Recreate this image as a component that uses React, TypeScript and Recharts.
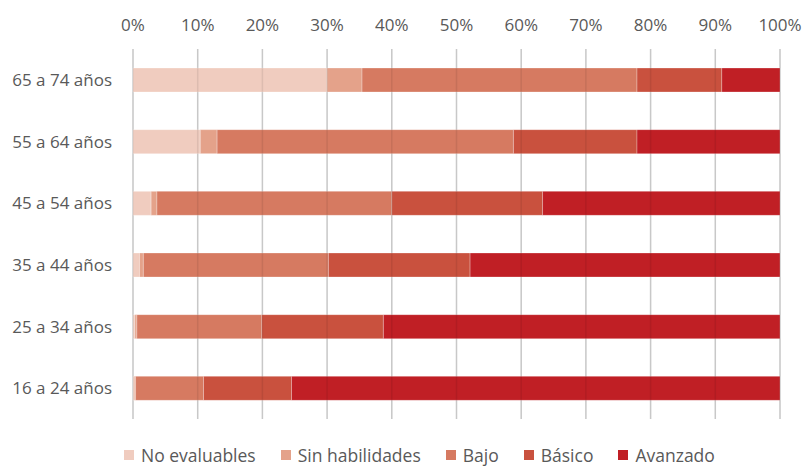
import {
  BarChart,
  Bar,
  XAxis,
  YAxis,
  CartesianGrid,
  Legend,
  ReferenceLine,
} from "recharts";

const categories = [
  "65 a 74 años",
  "55 a 64 años",
  "45 a 54 años",
  "35 a 44 años",
  "25 a 34 años",
  "16 a 24 años",
];
const noEvaluables = [30.0, 10.4, 2.8, 1.0, 0.3, 0.2];
const sinHabilidades = [5.4, 2.6, 0.9, 0.6, 0.3, 0.2];
const bajo = [42.5, 45.8, 36.3, 28.6, 19.3, 10.5];
const basico = [13.1, 19.1, 23.3, 21.9, 18.8, 13.6];
const avanzado = [9.0, 22.1, 36.7, 47.9, 61.3, 75.5];
const xTicks = [0, 10, 20, 30, 40, 50, 60, 70, 80, 90, 100];

const series = [
  { key: "ne", name: "No evaluables", color: "#F0CCBF" },
  { key: "sh", name: "Sin habilidades", color: "#E4A28A" },
  { key: "bajo", name: "Bajo", color: "#D67A61" },
  { key: "basico", name: "Básico", color: "#C9513E" },
  { key: "av", name: "Avanzado", color: "#C01F25" },
];

const data = categories.map((name, i) => ({
  name,
  ne: noEvaluables[i],
  sh: sinHabilidades[i],
  bajo: bajo[i],
  basico: basico[i],
  av: avanzado[i],
}));

const FONT = "'Open Sans', sans-serif";
const TEXT = "#595959";

function LegendRow() {
  return (
    <div
      style={{
        display: "flex",
        justifyContent: "flex-start",
        gap: 25,
        fontFamily: FONT,
        fontSize: 17.5,
        lineHeight: "24px",
        color: TEXT,
        paddingLeft: 124,
      }}
    >
      {series.map((s) => (
        <div key={s.key} style={{ display: "flex", alignItems: "center" }}>
          <span
            style={{
              width: 10,
              height: 10,
              background: s.color,
              display: "inline-block",
              marginRight: 7,
            }}
          />
          {s.name}
        </div>
      ))}
    </div>
  );
}

export default function App() {
  return (
    <div style={{ width: 805, height: 470, background: "#fff" }}>
      <style>{"body{margin:0}"}</style>
      <BarChart
        width={805}
        height={470}
        data={data}
        layout="vertical"
        margin={{ top: 19, right: 25, bottom: 27, left: 0 }}
        barSize={24}
      >
        <CartesianGrid horizontal={false} stroke="#d9d9d9" strokeWidth={1.5} />
        <XAxis
          type="number"
          orientation="top"
          domain={[0, 100]}
          ticks={xTicks}
          tickFormatter={(v) => `${v}%`}
          axisLine={false}
          tickLine={false}
          tickMargin={12}
          tick={{ fill: TEXT, fontSize: 17, fontFamily: FONT }}
          height={30}
        />
        <YAxis
          type="category"
          dataKey="name"
          width={133}
          axisLine={false}
          tickLine={false}
          tickMargin={15}
          tick={{ fill: TEXT, fontSize: 17, fontFamily: FONT }}
        />
        {series.slice(0, 4).map((s) => (
          <Bar
            key={s.key}
            dataKey={s.key}
            name={s.name}
            stackId="a"
            fill={s.color}
            stroke="#ffffff"
            strokeOpacity={0.35}
            strokeWidth={0.8}
            isAnimationActive={false}
          />
        ))}
        {xTicks.map((t) => (
          <ReferenceLine
            key={t}
            x={t}
            stroke="#000"
            strokeOpacity={0.08}
            strokeWidth={1.5}
          />
        ))}
        <Bar
          dataKey="av"
          name="Avanzado"
          stackId="a"
          fill="#C01F25"
          stroke="#ffffff"
          strokeOpacity={0.35}
          strokeWidth={0.8}
          isAnimationActive={false}
        />
        <Legend
          verticalAlign="bottom"
          wrapperStyle={{ bottom: 3, left: 0, width: 805 }}
          content={() => <LegendRow />}
        />
      </BarChart>
    </div>
  );
}
